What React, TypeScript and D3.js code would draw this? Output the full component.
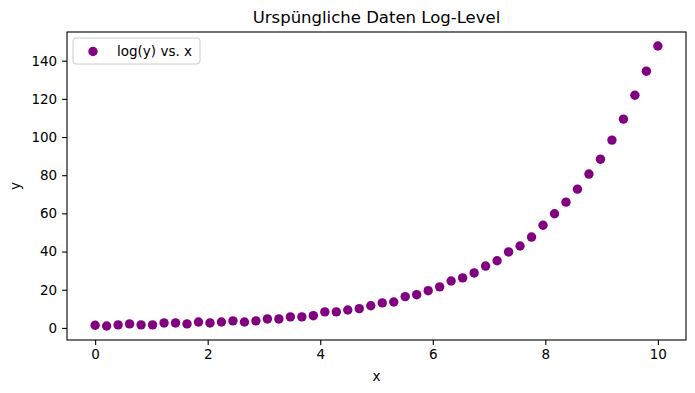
import React, { useRef, useEffect } from 'react';
import * as d3 from 'd3';

// 50 points, x = linspace(0, 10, 50)
const xValues: number[] = d3.range(50).map(i => (i * 10) / 49);
const yValues: number[] = [
  1.4, 1.0, 1.6, 2.1, 1.6, 1.6, 2.6, 2.6, 2.1, 3.1,
  2.6, 3.1, 3.7, 3.1, 3.7, 4.7, 4.7, 5.8, 5.8, 6.4,
  8.4, 8.4, 9.4, 10.1, 11.6, 13.1, 13.6, 16.4, 17.4, 19.5,
  21.5, 24.6, 26.2, 28.8, 32.4, 35.2, 39.8, 42.9, 47.6, 53.8,
  59.8, 65.9, 72.7, 80.6, 88.4, 98.4, 109.4, 121.9, 134.5, 147.7,
];
const xTicks = [0, 2, 4, 6, 8, 10];
const yTicks = [0, 20, 40, 60, 80, 100, 120, 140];

const W = 695;
const H = 393;
const margin = { top: 32, right: 9, bottom: 53, left: 67 };
const FONT = 'DejaVu Sans, sans-serif';

const App = () => {
  const svgRef = useRef<SVGSVGElement>(null);

  useEffect(() => {
    const svg = d3.select(svgRef.current);
    svg.selectAll('*').remove();

    const iw = W - margin.left - margin.right;
    const ih = H - margin.top - margin.bottom;

    // matplotlib-style 5% margins
    const xPad = (10 - 0) * 0.05;
    const yMin = d3.min(yValues)!;
    const yMax = d3.max(yValues)!;
    const yPad = (yMax - yMin) * 0.05;

    const x = d3.scaleLinear().domain([0 - xPad, 10 + xPad]).range([0, iw]);
    const y = d3.scaleLinear().domain([yMin - yPad, yMax + yPad]).range([ih, 0]);

    svg.append('rect').attr('width', W).attr('height', H).attr('fill', 'white');

    const g = svg.append('g').attr('transform', `translate(${margin.left},${margin.top})`);

    // points
    g.selectAll('.dot')
      .data(xValues)
      .enter()
      .append('circle')
      .attr('cx', (d) => x(d))
      .attr('cy', (d, i) => y(yValues[i]))
      .attr('r', 4.7)
      .attr('fill', 'purple');

    // axes
    const xAxis = g.append('g')
      .attr('transform', `translate(0,${ih})`)
      .call(d3.axisBottom(x).tickValues(xTicks).tickFormat(d3.format('d')).tickSize(4.9).tickPadding(4.9));
    const yAxis = g.append('g')
      .call(d3.axisLeft(y).tickValues(yTicks).tickFormat(d3.format('d')).tickSize(4.9).tickPadding(4.9));

    [xAxis, yAxis].forEach(ax => {
      ax.select('.domain').remove();
      ax.selectAll('line').attr('stroke', 'black').attr('stroke-width', 1.1);
      ax.selectAll('text').attr('font-family', FONT).attr('font-size', 13.5).attr('fill', 'black');
    });

    // frame
    g.append('rect')
      .attr('width', iw)
      .attr('height', ih)
      .attr('fill', 'none')
      .attr('stroke', 'black')
      .attr('stroke-width', 1.1);

    // title & labels
    svg.append('text')
      .attr('x', margin.left + iw / 2)
      .attr('y', 23)
      .attr('text-anchor', 'middle')
      .attr('font-family', FONT)
      .attr('font-size', 16.5)
      .text('Urspüngliche Daten Log-Level');

    svg.append('text')
      .attr('x', margin.left + iw / 2)
      .attr('y', 381)
      .attr('text-anchor', 'middle')
      .attr('font-family', FONT)
      .attr('font-size', 13.5)
      .text('x');

    svg.append('text')
      .attr('transform', `translate(20,${margin.top + ih / 2}) rotate(-90)`)
      .attr('text-anchor', 'middle')
      .attr('font-family', FONT)
      .attr('font-size', 13.5)
      .text('y');

    // legend
    const lg = g.append('g').attr('transform', 'translate(6,6)');
    lg.append('rect')
      .attr('width', 127)
      .attr('height', 26)
      .attr('rx', 3)
      .attr('fill', 'white')
      .attr('fill-opacity', 0.8)
      .attr('stroke', '#cccccc')
      .attr('stroke-width', 1);
    lg.append('circle').attr('cx', 20).attr('cy', 13.5).attr('r', 4.7).attr('fill', 'purple');
    lg.append('text')
      .attr('x', 44)
      .attr('y', 18)
      .attr('font-family', FONT)
      .attr('font-size', 13.5)
      .text('log(y) vs. x');
  }, []);

  return (
    <div style={{ position: 'absolute', left: 0, top: 0 }}>
      <svg ref={svgRef} width={W} height={H} style={{ display: 'block' }}></svg>
    </div>
  );
};

export default App;
